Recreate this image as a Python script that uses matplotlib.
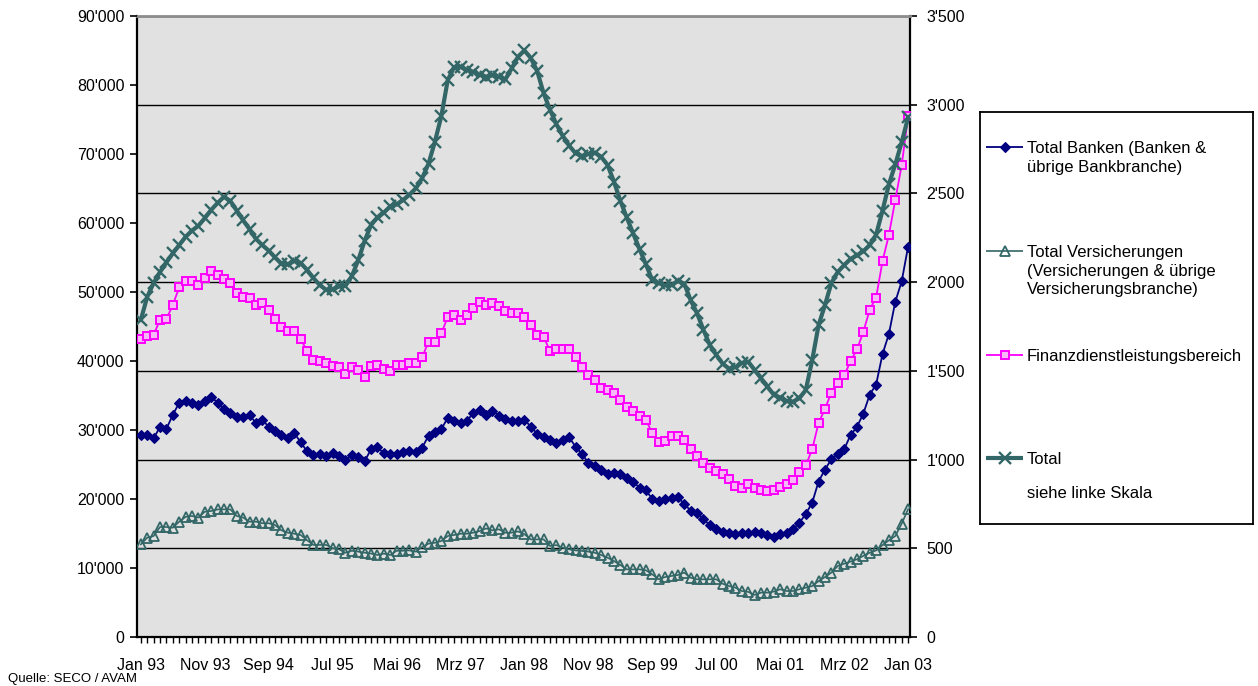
import matplotlib
matplotlib.use("Agg")
import matplotlib.pyplot as plt
import numpy as np
from matplotlib import font_manager as fm
from matplotlib.ticker import FuncFormatter

# ---------------- data (monthly, Jan 93 .. Jan 03) ----------------
months = np.arange(121)
tick_labels = ["Jan 93", "Nov 93", "Sep 94", "Jul 95", "Mai 96", "Mrz 97", "Jan 98",
               "Nov 98", "Sep 99", "Jul 00", "Mai 01", "Mrz 02", "Jan 03"]

total = [45970, 49300, 51300, 52900, 54300, 55600, 56800, 58000, 58900, 59600,
         60700, 61900, 62900, 63800, 63200, 61800, 60400, 59100, 57700, 56800,
         56000, 55000, 54100, 54000, 54500, 54200, 53200, 52000, 51000, 50300,
         50400, 50800, 50900, 52300, 54600, 57400, 59700, 60800, 61500, 62400,
         62700, 63300, 64100, 65000, 66500, 68600, 71800, 75500, 80700, 82600,
         82600, 82200, 81900, 81500, 81200, 81400, 81200, 80800, 82400, 84100,
         85000, 83900, 82000, 78800, 76400, 74300, 72600, 71200, 70100, 69700,
         70000, 70200, 69600, 68400, 66000, 63200, 60800, 58500, 56200, 54000,
         51700, 51300, 51000, 51000, 51600, 51200, 48800, 46900, 44500, 42300,
         40900, 39600, 38900, 39100, 39700, 39900, 38700, 37500, 36300, 35100,
         34700, 34200, 34100, 34600, 35800, 40100, 45200, 48100, 51300, 52900,
         53900, 54800, 55300, 55900, 56800, 58300, 61800, 65600, 68500, 71700,
         75300]

banken = [1138, 1138, 1120, 1184, 1173, 1252, 1320, 1332, 1320, 1309,
          1332, 1355, 1320, 1286, 1264, 1241, 1241, 1252, 1206, 1225,
          1184, 1161, 1138, 1120, 1150, 1097, 1047, 1024, 1029, 1020,
          1035, 1020, 997, 1024, 1013, 990, 1058, 1070, 1035, 1030,
          1034, 1040, 1049, 1040, 1068, 1134, 1153, 1172, 1235, 1220,
          1205, 1220, 1261, 1280, 1254, 1273, 1248, 1229, 1220, 1220,
          1223, 1186, 1144, 1125, 1110, 1091, 1110, 1125, 1072, 1030,
          983, 964, 939, 921, 926, 917, 894, 875, 841, 826,
          778, 768, 776, 781, 787, 750, 712, 701, 663, 631,
          607, 594, 588, 580, 588, 588, 594, 588, 575, 565,
          580, 588, 607, 644, 693, 757, 876, 944, 1001, 1029,
          1058, 1138, 1184, 1259, 1366, 1423, 1594, 1708, 1890, 2004,
          2200]

versicherungen = [522, 560, 569, 620, 620, 616, 650, 677, 682, 673,
                  706, 710, 719, 719, 719, 682, 673, 650, 650, 641,
                  641, 631, 601, 588, 582, 575, 545, 519, 519, 519,
                  500, 494, 475, 486, 481, 475, 470, 462, 470, 462,
                  486, 486, 488, 481, 507, 526, 531, 541, 569, 575,
                  582, 582, 588, 597, 612, 601, 607, 588, 588, 595,
                  579, 550, 550, 550, 513, 518, 503, 494, 488, 485,
                  481, 475, 462, 447, 428, 406, 381, 381, 381, 376,
                  353, 325, 338, 344, 349, 363, 334, 325, 325, 325,
                  325, 300, 287, 278, 259, 254, 237, 250, 250, 256,
                  269, 259, 259, 269, 278, 287, 315, 338, 363, 400,
                  413, 425, 438, 457, 475, 488, 518, 545, 569, 639,
                  720]

finanz = [1680, 1696, 1703, 1788, 1792, 1872, 1970, 2009, 2009, 1986,
          2022, 2061, 2038, 2015, 1993, 1940, 1917, 1908, 1872, 1885,
          1845, 1794, 1749, 1724, 1724, 1680, 1612, 1560, 1553, 1544,
          1530, 1521, 1480, 1521, 1503, 1468, 1530, 1535, 1508, 1500,
          1532, 1532, 1542, 1545, 1576, 1665, 1665, 1712, 1803, 1816,
          1788, 1816, 1854, 1886, 1873, 1883, 1864, 1835, 1826, 1826,
          1803, 1759, 1703, 1689, 1614, 1621, 1621, 1621, 1576, 1519,
          1475, 1451, 1405, 1390, 1375, 1337, 1295, 1276, 1248, 1223,
          1148, 1097, 1106, 1134, 1134, 1110, 1059, 1021, 983, 955,
          936, 917, 889, 851, 841, 860, 837, 831, 821, 831,
          846, 865, 883, 928, 967, 1058, 1206, 1286, 1377, 1430,
          1475, 1553, 1621, 1719, 1845, 1913, 2118, 2266, 2464, 2658,
          2934]

left_ticks = list(range(0, 90001, 10000))
right_ticks = list(range(0, 3501, 500))

legend_labels = [
    ["Total Banken (Banken &", "übrige Bankbranche)"],
    ["Total Versicherungen", "(Versicherungen & übrige", "Versicherungsbranche)"],
    ["Finanzdienstleistungsbereich"],
    ["Total", "", "siehe linke Skala"],
]
source_text = "Quelle: SECO / AVAM"

# ---------------- styling ----------------
C_BANK = "#000080"
C_VERS = "#336666"
C_FIN = "#FF00FF"
C_TOT = "#336666"

available = {f.name for f in fm.fontManager.ttflist}
MAIN_FONT = "Liberation Sans" if "Liberation Sans" in available else "DejaVu Sans"
NARROW_FONT = "Liberation Sans Narrow" if "Liberation Sans Narrow" in available else MAIN_FONT
plt.rcParams["font.family"] = [MAIN_FONT, "DejaVu Sans"]

W, H = 1258, 686
fig = plt.figure(figsize=(W / 100, H / 100), dpi=100)
fig.patch.set_facecolor("white")

L, R, T, B = 137, 910, 16, 637
axR = fig.add_axes([L / W, 1 - B / H, (R - L) / W, (B - T) / H])
axR.set_facecolor("#E1E1E1")
axR.set_xlim(-0.6, 120.3)
axR.set_ylim(0, 3500)

style_vers = dict(color=C_VERS, lw=1.2, marker="^", ms=7.5, mfc="none", mec=C_VERS, mew=1.3)
style_fin = dict(color=C_FIN, lw=1.3, marker="s", ms=6, mfc="#F6B8F6", mec=C_FIN, mew=1.4)
style_bank = dict(color=C_BANK, lw=1.3, marker="D", ms=5.3, mfc=C_BANK, mec=C_BANK, mew=0.8)
style_tot = dict(color=C_TOT, lw=3.0, marker="x", ms=9, mec=C_TOT, mew=1.7)

axR.plot(months, versicherungen, **style_vers, zorder=3)
axR.plot(months, finanz, **style_fin, zorder=3)
axR.plot(months, banken, **style_bank, zorder=4)

axR.set_yticks(right_ticks)
axR.yaxis.grid(True, color="black", lw=1.0)
axR.set_axisbelow(True)
fmt = FuncFormatter(lambda v, p: f"{int(v):,}".replace(",", "'"))
axR.yaxis.set_major_formatter(fmt)

axL = axR.twinx()
axL.set_ylim(0, 90000)
axL.set_yticks(left_ticks)
axL.yaxis.set_major_formatter(fmt)
axL.plot(months, total, **style_tot, zorder=5)
axL.yaxis.tick_left()
axR.yaxis.tick_right()

for s in axL.spines.values():
    s.set_visible(False)
axR.spines["top"].set_color("#8C8C8C")
axR.spines["top"].set_linewidth(2.0)
for k in ("left", "right", "bottom"):
    axR.spines[k].set_color("black")
    axR.spines[k].set_linewidth(1.6)

axR.set_xticks(months[::10])
axR.set_xticklabels(tick_labels, fontfamily=NARROW_FONT, fontsize=11.5)
axR.set_xticks(months, minor=True)
axR.tick_params(axis="x", which="both", direction="out", length=4, width=1, pad=11)
axR.tick_params(axis="y", direction="out", length=5, width=1.2, labelsize=11.5, pad=7,
                labelright=True, labelleft=False, right=True, left=False)
axL.tick_params(axis="y", direction="out", length=5, width=1.2, labelsize=11.5, pad=4,
                labelleft=True, labelright=False, left=True, right=False)

# ---------------- legend box ----------------
lx0, lx1, ly0, ly1 = 980, 1253, 112, 524
lax = fig.add_axes([lx0 / W, 1 - ly1 / H, (lx1 - lx0) / W, (ly1 - ly0) / H])
lax.set_xlim(lx0, lx1)
lax.set_ylim(ly1, ly0)
lax.set_xticks([])
lax.set_yticks([])
for s in lax.spines.values():
    s.set_color("black")
    s.set_linewidth(1.3)

entry_y = [147, 251, 355, 458]
styles = [style_bank, style_vers, style_fin, style_tot]
for y, st, lines in zip(entry_y, styles, legend_labels):
    line_style = {k: v for k, v in st.items() if k not in ("marker", "ms", "mfc", "mec", "mew")}
    lax.plot([986, 1023], [y, y], **line_style, solid_capstyle="butt")
    lax.plot([1004.5], [y], linestyle="none", **{k: v for k, v in st.items() if k not in ("lw",)})
    for j, txt in enumerate(lines):
        lax.text(1027, y + 2 + j * 18.5 if txt != "siehe linke Skala" else y + 36, txt,
                 fontsize=12, va="center", ha="left", color="black")

fig.text(8 / W, 1 - 679 / H, source_text, fontsize=9.5, fontfamily=NARROW_FONT,
         va="center", ha="left")

fig.savefig("out.png", dpi=100, facecolor="white")
